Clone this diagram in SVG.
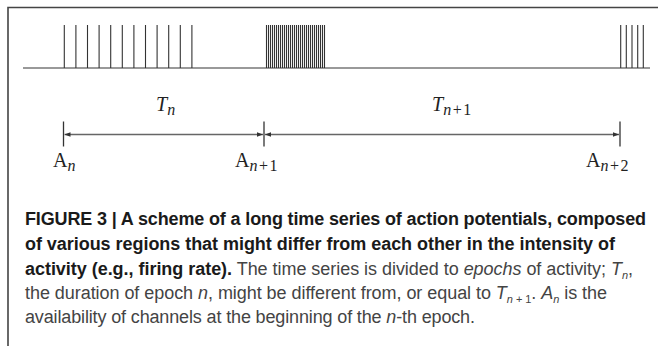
<svg xmlns="http://www.w3.org/2000/svg" width="658" height="346" viewBox="0 0 658 346">
<style>
.frame{stroke:#444;stroke-width:1.6;fill:none}
.spk{stroke:#333;stroke-width:1.1}
.base{stroke:#777;stroke-width:1.6}
.tick{stroke:#333;stroke-width:1.3}
.arr{stroke:#666;stroke-width:1.3;fill:none}
.math{font-family:"Liberation Serif","DejaVu Serif",serif;fill:#222}
.cap{font-family:"Liberation Sans",Arial,sans-serif;font-size:18px;fill:#444}
.b{font-weight:bold;fill:#1a1a1a}
.i{font-style:italic}
</style>
<defs>
<marker id="ah" viewBox="0 0 6 6" refX="6" refY="3" markerWidth="6" markerHeight="6" markerUnits="userSpaceOnUse" orient="auto-start-reverse">
<path d="M0,0.8 L6,3 L0,5.2 Z" fill="#333"/>
</marker>
</defs>
<g id="frame">
<path class="frame" d="M8,346 V7.5 H658"/>
</g>
<g id="spike-train">
<line class="base" x1="23" y1="68" x2="650" y2="68"/>
<g id="spikes-sparse">
<line class="spk" x1="64.3" y1="25" x2="64.3" y2="68"/>
<line class="spk" x1="75.9" y1="25" x2="75.9" y2="68"/>
<line class="spk" x1="87.5" y1="25" x2="87.5" y2="68"/>
<line class="spk" x1="99.1" y1="25" x2="99.1" y2="68"/>
<line class="spk" x1="110.7" y1="25" x2="110.7" y2="68"/>
<line class="spk" x1="122.3" y1="25" x2="122.3" y2="68"/>
<line class="spk" x1="133.9" y1="25" x2="133.9" y2="68"/>
<line class="spk" x1="145.5" y1="25" x2="145.5" y2="68"/>
<line class="spk" x1="157.1" y1="25" x2="157.1" y2="68"/>
<line class="spk" x1="168.7" y1="25" x2="168.7" y2="68"/>
<line class="spk" x1="180.3" y1="25" x2="180.3" y2="68"/>
<line class="spk" x1="191.9" y1="25" x2="191.9" y2="68"/>
</g>
<g id="spikes-dense">
<path class="spk" d="M266.5,25V68M268.5,25V68M270.5,25V68M272.5,25V68M274.5,25V68M276.5,25V68M278.5,25V68M280.5,25V68M282.5,25V68M284.5,25V68M286.5,25V68M288.5,25V68M290.5,25V68M292.5,25V68M294.5,25V68M296.5,25V68M298.5,25V68M300.5,25V68M302.5,25V68M304.5,25V68M306.5,25V68M308.5,25V68M310.5,25V68M312.5,25V68M314.5,25V68M316.5,25V68M318.5,25V68M320.5,25V68M322.5,25V68M324.5,25V68"/>
</g>
<g id="spikes-end">
<line class="spk" x1="620.7" y1="25" x2="620.7" y2="68"/>
<line class="spk" x1="626.3" y1="25" x2="626.3" y2="68"/>
<line class="spk" x1="632" y1="25" x2="632" y2="68"/>
<line class="spk" x1="637.7" y1="25" x2="637.7" y2="68"/>
<line class="spk" x1="643.3" y1="25" x2="643.3" y2="68"/>
</g>
</g>
<g id="A_n">
<line class="tick" x1="63.5" y1="121.5" x2="63.5" y2="146.5"/>
<text class="math" x="53" y="167" font-size="20">A<tspan class="i" font-size="16" dy="4">n</tspan></text>
</g>
<g id="A_n1">
<line class="tick" x1="264" y1="121.5" x2="264" y2="146.5"/>
<text class="math" x="235" y="167" font-size="20">A<tspan font-size="16" dy="4"><tspan class="i">n</tspan><tspan dx="1.5">+</tspan><tspan dx="1.5">1</tspan></tspan></text>
</g>
<g id="A_n2">
<line class="tick" x1="620" y1="121.5" x2="620" y2="146.5"/>
<text class="math" x="586" y="167" font-size="20">A<tspan font-size="16" dy="4"><tspan class="i">n</tspan><tspan dx="1.5">+</tspan><tspan dx="1.5">2</tspan></tspan></text>
</g>
<g id="connectors">
<line class="arr" x1="64.5" y1="134.5" x2="263" y2="134.5" marker-start="url(#ah)" marker-end="url(#ah)"/>
<line class="arr" x1="265" y1="134.5" x2="619" y2="134.5" marker-start="url(#ah)" marker-end="url(#ah)"/>
</g>
<g id="labels">
<text class="math i" x="156" y="111" font-size="20">T<tspan font-size="16" dy="4">n</tspan></text>
<text class="math" x="432" y="111" font-size="20"><tspan class="i">T</tspan><tspan font-size="16" dy="4"><tspan class="i">n</tspan><tspan dx="1.5">+</tspan><tspan dx="1.5">1</tspan></tspan></text>
</g>
<g id="caption">
<text class="cap" x="25" y="225" textLength="621" lengthAdjust="spacing"><tspan class="b">FIGURE 3 | A scheme of a long time series of action potentials, composed</tspan></text>
<text class="cap" x="25" y="250" textLength="590" lengthAdjust="spacing"><tspan class="b">of various regions that might differ from each other in the intensity of</tspan></text>
<text class="cap" x="25" y="275" textLength="608" lengthAdjust="spacing"><tspan class="b">activity (e.g., firing rate).</tspan> The time series is divided to <tspan class="i">epochs</tspan> of activity; <tspan class="i">T</tspan><tspan class="i" font-size="11" dy="4">n</tspan><tspan dy="-4">,</tspan></text>
<text class="cap" x="25" y="299" textLength="582" lengthAdjust="spacing">the duration of epoch <tspan class="i">n</tspan>, might be different from, or equal to <tspan class="i">T</tspan><tspan font-size="11" dy="4"><tspan class="i">n</tspan> + 1</tspan><tspan dy="-4">. </tspan><tspan class="i">A</tspan><tspan class="i" font-size="11" dy="4">n</tspan><tspan dy="-4"> is the</tspan></text>
<text class="cap" x="25" y="323" textLength="450" lengthAdjust="spacing">availability of channels at the beginning of the <tspan class="i">n</tspan>-th epoch.</text>
</g>
</svg>
